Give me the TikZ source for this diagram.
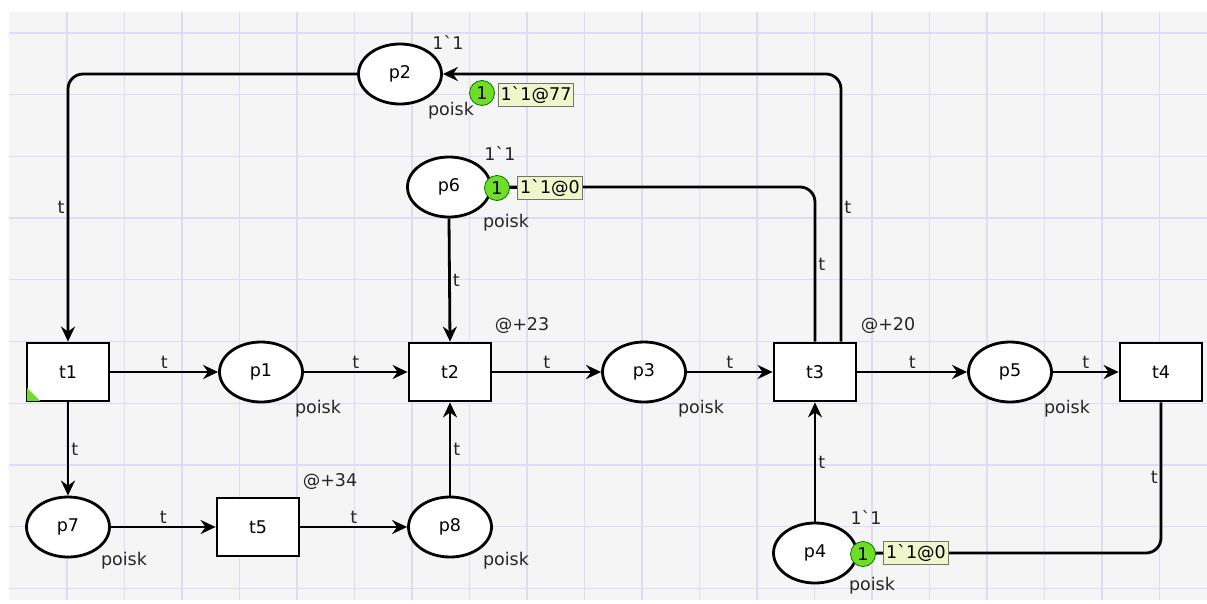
\documentclass[tikz,border=0pt]{standalone}
\usepackage{fontspec}
\setmainfont{DejaVu Sans}
\usepackage{xcolor}
\usetikzlibrary{arrows.meta,shapes.geometric,calc}
\definecolor{sheetbg}{RGB}{245,245,246}
\definecolor{sheetline}{RGB}{220,220,242}
\definecolor{tokgreen}{RGB}{112,222,40}
\definecolor{tokfill}{RGB}{238,246,202}
\newcommand{\cpnfont}{\fontsize{17.5}{20}\selectfont}

\begin{document}
\begin{tikzpicture}[x=1pt, y=-1pt,
  place/.style={draw, ellipse, line width=2.8pt, fill=white, minimum width=83pt, minimum height=60pt, inner sep=0pt, font=\cpnfont},
  trans/.style={draw, rectangle, line width=2.8pt, fill=white, minimum width=82pt, minimum height=58pt, inner sep=0pt, font=\cpnfont},
  arc/.style={line width=2.8pt, rounded corners=15pt, -{Stealth[length=15pt, width=14pt, inset=5pt]}},
  lbl/.style={font=\cpnfont, text=black!85, inner sep=2pt},
  tok/.style={circle, fill=tokgreen, draw=green!45!black, line width=0.8pt, inner sep=0pt, minimum size=25pt, font=\cpnfont},
  tokbox/.style={draw=black!55, fill=tokfill, line width=1pt, inner sep=2.5pt, font=\cpnfont},
]
\useasboundingbox (0,0) rectangle (1207,603);
\fill[white] (0,0) rectangle (1207,603);
\fill[sheetbg] (9,12) rectangle (1207,600);
\foreach \gx in {0,...,19}
  \draw[sheetline, line width=1.3pt] ({67+57.5*\gx},12) -- ++(0,588);
\foreach \gy in {0,...,9}
  \draw[sheetline, line width=1.3pt] (9,{33+61.7*\gy}) -- (1207,{33+61.7*\gy});

\node[trans] (t1) at (68,372) {t1};
\node[place] (p1) at (261,372) {p1};
\node[trans] (t2) at (450,372) {t2};
\node[place] (p3) at (644,372) {p3};
\node[trans] (t3) at (815,372) {t3};
\node[place] (p5) at (1010,372) {p5};
\node[trans] (t4) at (1161,372) {t4};
\node[place] (p7) at (68,527) {p7};
\node[trans] (t5) at (258,527) {t5};
\node[place] (p8) at (450,527) {p8};
\node[place] (p4) at (815,553) {p4};
\node[place] (p2) at (400,74) {p2};
\node[place] (p6) at (449,187) {p6};
\fill[tokgreen] (t1.south west) ++(1.5,-1.5) -- ++(13,0) -- ++(-13,-13) -- cycle;

\draw[arc] (p2.west) -| node[lbl, left, pos=0.75] {t} (t1.north);
\draw[arc] ($(t3.north)+(26,0)$) |- node[lbl, right, pos=0.25] {t} (p2.east);
\draw[arc] (t3.north) |- node[lbl, right, pos=0.25] {t} (p6.east);
\draw[arc] (p6.south) -- node[lbl, right] {t} (t2.north);
\draw[arc] (t1) -- node[lbl, above] {t} (p1);
\draw[arc] (p1) -- node[lbl, above] {t} (t2);
\draw[arc] (t2) -- node[lbl, above] {t} (p3);
\draw[arc] (p3) -- node[lbl, above] {t} (t3);
\draw[arc] (t3) -- node[lbl, above] {t} (p5);
\draw[arc] (p5) -- node[lbl, above] {t} (t4);
\draw[arc] (t1) -- node[lbl, right] {t} (p7);
\draw[arc] (p7) -- node[lbl, above] {t} (t5);
\draw[arc] (t5) -- node[lbl, above] {t} (p8);
\draw[arc] (p8) -- node[lbl, right] {t} (t2);
\draw[arc] (p4) -- node[lbl, right] {t} (t3);
\draw[arc] (t4.south) |- node[lbl, left, pos=0.25] {t} (p4.east);

\node[lbl] (p1type) at ($(p1)+(57,37)$) {poisk};
\node[lbl] (p3type) at ($(p3)+(57,37)$) {poisk};
\node[lbl] (p5type) at ($(p5)+(57,37)$) {poisk};
\node[lbl] (p7type) at ($(p7)+(56,34)$) {poisk};
\node[lbl] (p8type) at ($(p8)+(56,34)$) {poisk};
\node[lbl] (p2type) at ($(p2)+(51,37)$) {poisk};
\node[lbl] (p6type) at ($(p6)+(57,36)$) {poisk};
\node[lbl] (p4type) at ($(p4)+(57,33)$) {poisk};

\node[lbl] (p2init) at ($(p2)+(48,-32)$) {1\textasciigrave1};
\node[lbl] (p6init) at ($(p6)+(51,-34)$) {1\textasciigrave1};
\node[lbl] (p4init) at ($(p4)+(51,-36)$) {1\textasciigrave1};

\node[lbl] (t2time) at ($(t2)+(72,-46)$) {@+23};
\node[lbl] (t3time) at ($(t3)+(73,-46)$) {@+20};
\node[lbl] (t5time) at ($(t5)+(72,-45)$) {@+34};

\node[tok] (p2tok) at (482,93) {1};
\node[tokbox] (p2mark) at (536,95) {1\textasciigrave1@77};
\node[tok] (p6tok) at (497,188) {1};
\node[tokbox] (p6mark) at (550,188) {1\textasciigrave1@0};
\node[tok] (p4tok) at (863,554) {1};
\node[tokbox] (p4mark) at (916,553) {1\textasciigrave1@0};
\draw[line width=1.5pt] (p6tok) -- (p6mark);
\draw[line width=1.5pt] (p4tok) -- (p4mark);
\end{tikzpicture}
\end{document}
